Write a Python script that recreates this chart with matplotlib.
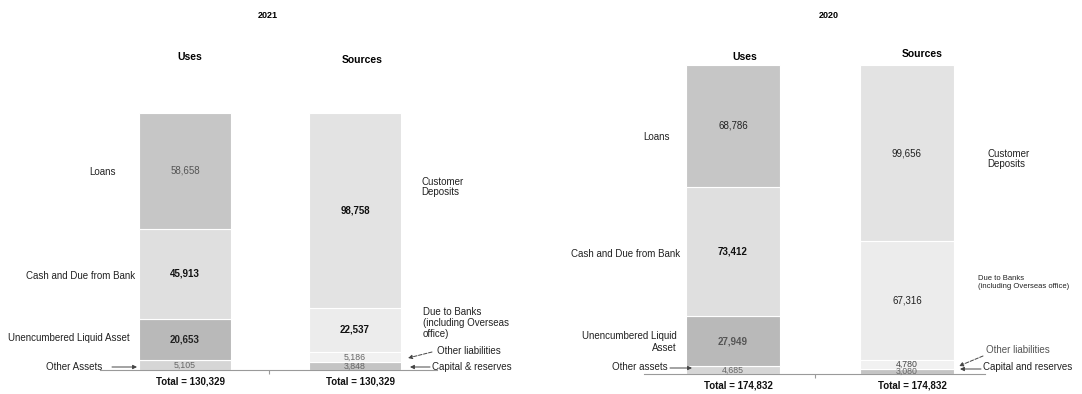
import matplotlib.pyplot as plt
from matplotlib.patches import FancyArrowPatch

plt.rcParams['font.family'] = ['Liberation Sans', 'DejaVu Sans']

# values, top segment first
uses_2021 = [58658, 45913, 20653, 5105]
sources_2021 = [98758, 22537, 5186, 3848]
uses_2020 = [68786, 73412, 27949, 4685]
sources_2020 = [99656, 67316, 4780, 3080]

uses_colors = ['#c6c6c6', '#dfdfdf', '#b9b9b9', '#d6d6d6']
sources_colors = ['#e3e3e3', '#ececec', '#f1f1f1', '#c4c4c4']

W, H = 1082, 394
fig = plt.figure(figsize=(W / 100, H / 100), dpi=100)


def fy(y):
    return 1 - y / H


def px(x, y):
    return (x / W, fy(y))


def panel(x0, x1, top, base, c_uses, c_src, uses, sources, val_style):
    total = sum(uses)
    unit = c_src - c_uses
    ax = fig.add_axes([x0 / W, fy(base), (x1 - x0) / W, (base - top) / H])
    ax.set_xlim(-(c_uses - x0) / unit, (x1 - c_uses) / unit)
    ax.set_ylim(0, total)
    for i, (vals, cols) in enumerate([(uses, uses_colors), (sources, sources_colors)]):
        bottom = 0
        for k in range(len(vals) - 1, -1, -1):
            v = vals[k]
            ax.bar(i, v, width=0.54, bottom=bottom, color=cols[k],
                   edgecolor='white', linewidth=0.8, clip_on=False)
            color, weight = val_style[i][k]
            small = v / total < 0.04
            ax.text(i, bottom + v / 2, f'{v:,}', ha='center', va='center',
                    fontsize=6.3 if small else 7, color=color, fontweight=weight)
            bottom += v
        ax.annotate(f'Total = {sum(vals):,}', xy=(i, 0), xytext=(5, -12),
                    textcoords='offset pixels', ha='center', va='center',
                    fontsize=7, fontweight='bold', color='#111111')
    for s in ['top', 'left', 'right']:
        ax.spines[s].set_visible(False)
    ax.spines['bottom'].set_color('#9a9a9a')
    ax.spines['bottom'].set_linewidth(0.8)
    lo, hi = ax.get_xlim()
    ax.set_xticks([(lo + hi) / 2])
    ax.set_xticklabels([''])
    ax.tick_params(axis='x', length=3, color='#9a9a9a')
    ax.set_yticks([])
    return ax


def arrow(start, end, dashed=False):
    a = FancyArrowPatch(px(*start), px(*end), transform=fig.transFigure,
                        arrowstyle='-|>', mutation_scale=6, color='#444444',
                        lw=0.7, linestyle='--' if dashed else '-',
                        shrinkA=0, shrinkB=0)
    fig.add_artist(a)


lab = dict(fontsize=7, color='#222222', va='center')

# 2021
style_2021 = [[('#555555', 'normal'), ('#111111', 'bold'), ('#222222', 'bold'), ('#666666', 'normal')],
              [('#111111', 'bold'), ('#111111', 'bold'), ('#666666', 'normal'), ('#666666', 'normal')]]
panel(100, 437, 113, 370, 185, 355, uses_2021, sources_2021, style_2021)
fig.text(*px(268, 16), '2021', ha='center', va='center', fontsize=6.5, fontweight='bold')
fig.text(*px(190, 57), 'Uses', ha='center', va='center', fontsize=7.5, fontweight='bold')
fig.text(*px(362, 60), 'Sources', ha='center', va='center', fontsize=7.5, fontweight='bold')
fig.text(*px(103, 172), 'Loans', ha='center', **lab)
fig.text(*px(135, 276), 'Cash and Due from Bank', ha='right', **lab)
fig.text(*px(130, 338), 'Unencumbered Liquid Asset', ha='right', **lab)
fig.text(*px(102, 367), 'Other Assets', ha='right', **lab)
fig.text(*px(421, 187), 'Customer\nDeposits', ha='left', linespacing=1.1, **lab)
fig.text(*px(423, 323), 'Due to Banks\n(including Overseas\noffice)', ha='left', linespacing=1.1, **lab)
fig.text(*px(437, 351), 'Other liabilities', ha='left', **lab)
fig.text(*px(432, 367), 'Capital & reserves', ha='left', **lab)

# 2020
style_2020 = [[('#222222', 'normal'), ('#111111', 'bold'), ('#555555', 'bold'), ('#666666', 'normal')],
              [('#222222', 'normal'), ('#222222', 'normal'), ('#444444', 'normal'), ('#666666', 'normal')]]
panel(644, 985, 65, 374, 733, 907, uses_2020, sources_2020, style_2020)
fig.text(*px(829, 16), '2020', ha='center', va='center', fontsize=6.5, fontweight='bold')
fig.text(*px(745, 57), 'Uses', ha='center', va='center', fontsize=7.5, fontweight='bold')
fig.text(*px(922, 54), 'Sources', ha='center', va='center', fontsize=7.5, fontweight='bold')
fig.text(*px(656, 137), 'Loans', ha='center', **lab)
fig.text(*px(680, 254), 'Cash and Due from Bank', ha='right', **lab)
fig.text(*px(677, 342), 'Unencumbered Liquid\nAsset', ha='right', multialignment='right',
         linespacing=1.2, **lab)
fig.text(*px(668, 367), 'Other assets', ha='right', **lab)
fig.text(*px(987, 159), 'Customer\nDeposits', ha='left', linespacing=1.1, **lab)
fig.text(*px(978, 283), 'Due to Banks\n(including Overseas office)', ha='left', linespacing=1.2,
         fontsize=5.5, color='#222222', va='center')
fig.text(*px(986, 350), 'Other liabilities', ha='left', fontsize=7, color='#555555', va='center')
fig.text(*px(983, 367), 'Capital and reserves', ha='left', **lab)

arrow((112, 367), (137, 367))
arrow((432, 352), (408, 358), dashed=True)
arrow((430, 367), (410, 367))
arrow((670, 368), (692, 368))
arrow((983, 356), (959, 366), dashed=True)
arrow((981, 369), (960, 369))

fig.savefig('out.png', dpi=100)
